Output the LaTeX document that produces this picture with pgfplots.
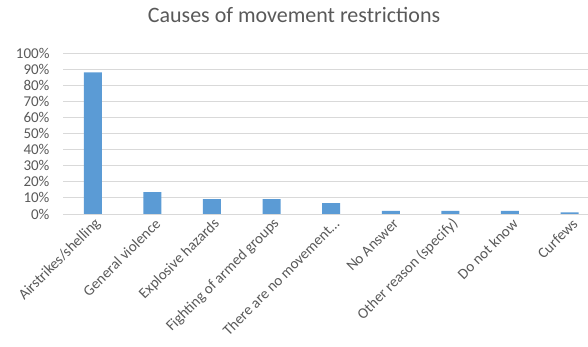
\documentclass[border=0pt]{standalone}
\usepackage{pgfplots}
\pgfplotsset{compat=1.18}
\usepackage{fontspec}
\setmainfont{Carlito}
\definecolor{txt}{RGB}{89,89,89}
\definecolor{gridc}{RGB}{217,217,217}
\definecolor{barc}{RGB}{91,155,213}
\begin{document}
\begin{tikzpicture}
\useasboundingbox (0pt,0pt) rectangle (588pt,347pt);
\begin{axis}[
  at={(63pt,133pt)}, anchor=south west,
  scale only axis, width=525pt, height=161pt,
  xmin=-0.5, xmax=8.31, ymin=0, ymax=1,
  axis lines*=left,
  x axis line style={gridc, line width=0.8pt},
  y axis line style={draw=none},
  ytick={0,0.1,...,1.0},
  ymajorgrids, grid style={gridc, line width=0.8pt},
  yticklabels={0\%,10\%,20\%,30\%,40\%,50\%,60\%,70\%,80\%,90\%,100\%},
  xtick=data,
  xticklabels={Airstrikes/shelling,General violence,Explosive hazards,Fighting of armed groups,There are no movement…,No Answer,Other reason (specify),Do not know,Curfews},
  major tick length=0pt,
  tick label style={font=\fontsize{15}{15}\selectfont, text=txt},
  /pgf/number format/assume math mode=true,
  yticklabel style={anchor=east, xshift=-10pt},
  xticklabel style={rotate=45, anchor=east, xshift=2pt, yshift=-9pt},
  title={Causes of movement restrictions},
  title style={at={(axis description cs:0.44,1.155)}, anchor=base, font=\fontsize{22}{22}\selectfont, text=txt},
  clip=false,
]
\addplot[ybar, bar width=18pt, fill=barc, draw=none] coordinates {
(0,0.88) (1,0.136) (2,0.092) (3,0.092) (4,0.067) (5,0.019) (6,0.019) (7,0.019) (8,0.010)
};
\end{axis}
\end{tikzpicture}
\end{document}
